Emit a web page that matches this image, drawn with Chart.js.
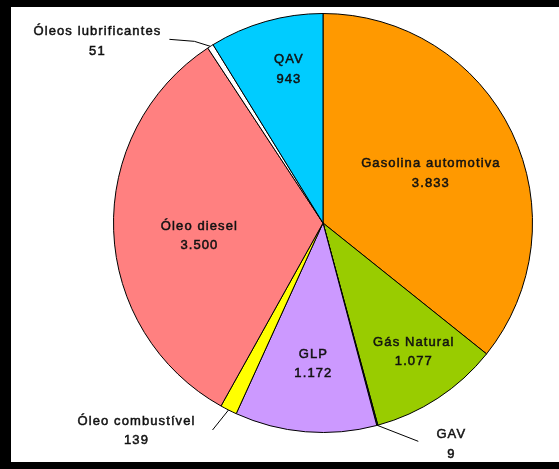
<!DOCTYPE html>
<html><head><meta charset="utf-8">
<script src="https://cdn.jsdelivr.net/npm/chart.js@4/dist/chart.umd.min.js"></script>
<style>html,body{margin:0;padding:0;background:#000;}#wrap{width:559px;height:469px;}</style>
</head><body><div id="wrap"><canvas id="c" width="559" height="469"></canvas></div>
<script>
const categories = ["Gasolina automotiva","Gás Natural","GAV","GLP","Óleo combustível","Óleo diesel","Óleos lubrificantes","QAV"];
const values = [3833,1077,9,1172,139,3500,51,943];
const valueLabels = ["3.833","1.077","9","1.172","139","3.500","51","943"];
const colors = ["#FF9900","#99CC00","#333399","#CC99FF","#FFFF00","#FF8080","#FFFFFF","#00CCFF"];

// label placement styling: inside -> [radiusFraction, angleShiftDeg]; outside -> leader & text offsets from arc edge
const placement = [
  {inside:true, f:0.567, a:0.9},
  {inside:true, f:0.753, a:-1.9},
  {inside:false, leader:[[41,16]], text:[74,19]},
  {inside:true, f:0.675, a:-0.9},
  {inside:false, leader:[[-16,20]], text:[-92,21]},
  {inside:true, f:0.593, a:-3.8},
  {inside:false, leader:[[-16,-5],[-41,-7]], text:[-113,-5]},
  {inside:true, f:0.75, a:3.3}
];

const bgPlugin = {
  id:'bg',
  beforeDraw(chart){
    const ctx = chart.ctx;
    ctx.save();
    ctx.fillStyle = '#000';
    ctx.fillRect(0,0,chart.width,chart.height);
    ctx.fillStyle = '#fff';
    ctx.fillRect(11,7,chart.width-11,455);
    ctx.restore();
  }
};

const labelPlugin = {
  id:'labels',
  afterDraw(chart){
    const ctx = chart.ctx;
    const meta = chart.getDatasetMeta(0);
    ctx.save();
    ctx.font = '13px "Liberation Sans", Arial, sans-serif';
    try { ctx.letterSpacing = '1.1px'; } catch(e) {}
    ctx.fillStyle = '#111';
    ctx.textAlign = 'center';
    ctx.textBaseline = 'middle';
    const lh = 19.5;
    const put = (t, x, y) => {
      ctx.save();
      ctx.strokeStyle = '#111';
      ctx.lineWidth = 0.5;
      ctx.strokeText(t, x, y);
      ctx.restore();
      ctx.fillText(t, x, y);
    };
    meta.data.forEach((arc, i) => {
      const p = placement[i];
      const mid = (arc.startAngle + arc.endAngle)/2;
      const r = arc.outerRadius;
      if (p.inside) {
        const ang = mid + p.a*Math.PI/180;
        const x = arc.x + Math.cos(ang)*r*p.f;
        const y = arc.y + Math.sin(ang)*r*p.f;
        put(categories[i], x, y - lh/2);
        put(valueLabels[i], x, y + lh/2);
      } else {
        const ex = arc.x + Math.cos(mid)*r;
        const ey = arc.y + Math.sin(mid)*r;
        ctx.strokeStyle = '#000';
        ctx.lineWidth = 1;
        ctx.beginPath();
        ctx.moveTo(ex, ey);
        p.leader.forEach(([dx,dy]) => ctx.lineTo(ex+dx, ey+dy));
        ctx.stroke();
        const tx = ex + p.text[0], ty = ey + p.text[1];
        put(categories[i], tx, ty - lh/2);
        put(valueLabels[i], tx, ty + lh/2);
      }
    });
    ctx.restore();
  }
};

new Chart(document.getElementById('c'), {
  type:'pie',
  data:{
    labels: categories,
    datasets:[{
      data: values,
      backgroundColor: colors,
      borderColor:'#000',
      borderWidth:1,
      hoverOffset:0
    }]
  },
  options:{
    responsive:false,
    animation:false,
    devicePixelRatio:1,
    layout:{padding:{left:112, right:25, top:13, bottom:36}},
    plugins:{legend:{display:false}, tooltip:{enabled:false}},
    events:[]
  },
  plugins:[bgPlugin, labelPlugin]
});
</script>
</body></html>
